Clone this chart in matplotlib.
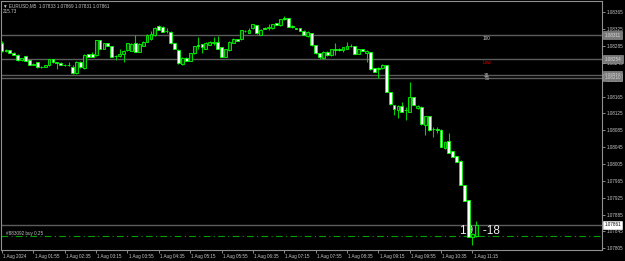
import matplotlib
matplotlib.use("Agg")
import matplotlib.pyplot as plt
import matplotlib.transforms as mtransforms
import numpy as np

plt.rcParams["font.family"] = ["Liberation Sans", "DejaVu Sans"]

# EURUSD M5 candles, prices in points (1e-5)
opens = [108293, 108274, 108275, 108269, 108263, 108252, 108261, 108252, 108240, 108246,
         108235, 108236, 108240, 108253, 108246, 108244, 108240, 108241, 108236, 108220,
         108248, 108232, 108266, 108267, 108263, 108299, 108279, 108291, 108285, 108261,
         108261, 108266, 108275, 108274, 108291, 108271, 108285, 108295, 108301, 108311,
         108332, 108331, 108320, 108319, 108292, 108275, 108242, 108257, 108250, 108268,
         108287, 108289, 108279, 108288, 108293, 108294, 108282, 108259, 108275, 108293,
         108301, 108301, 108320, 108316, 108327, 108335, 108311, 108327, 108327, 108327,
         108339, 108335, 108351, 108351, 108333, 108327, 108327, 108321, 108309, 108316,
         108287, 108268, 108256, 108271, 108263, 108279, 108279, 108275, 108279, 108286,
         108285, 108266, 108278, 108269, 108270, 108232, 108232, 108232, 108240, 108176,
         108145, 108133, 108142, 108133, 108129, 108164, 108137, 108141, 108097, 108119,
         108088, 108089, 108086, 108042, 108060, 108036, 108024, 108013, 107955, 107919,
         107832, 107833]
highs = [108297, 108278, 108276, 108271, 108266, 108257, 108262, 108253, 108244, 108247,
         108237, 108241, 108254, 108254, 108248, 108246, 108243, 108248, 108240, 108249,
         108249, 108265, 108267, 108271, 108300, 108300, 108292, 108292, 108286, 108263,
         108278, 108275, 108292, 108291, 108311, 108291, 108297, 108313, 108320, 108330,
         108335, 108332, 108328, 108320, 108293, 108277, 108258, 108259, 108269, 108286,
         108307, 108290, 108294, 108297, 108307, 108309, 108283, 108279, 108297, 108304,
         108302, 108324, 108323, 108328, 108338, 108336, 108325, 108330, 108337, 108338,
         108340, 108349, 108356, 108352, 108334, 108328, 108328, 108322, 108320, 108317,
         108288, 108269, 108273, 108272, 108278, 108291, 108280, 108283, 108295, 108290,
         108286, 108278, 108279, 108275, 108271, 108233, 108236, 108242, 108241, 108177,
         108146, 108144, 108153, 108141, 108200, 108165, 108144, 108142, 108120, 108120,
         108093, 108092, 108087, 108059, 108079, 108037, 108025, 108014, 107956, 107920,
         107841, 107869]
lows = [108271, 108271, 108268, 108263, 108250, 108250, 108249, 108240, 108239, 108233,
        108233, 108235, 108237, 108244, 108230, 108239, 108237, 108237, 108218, 108218,
        108233, 108230, 108258, 108258, 108262, 108278, 108278, 108284, 108258, 108252,
        108260, 108248, 108274, 108273, 108270, 108270, 108284, 108294, 108300, 108309,
        108322, 108318, 108316, 108290, 108277, 108242, 108241, 108249, 108249, 108267,
        108279, 108268, 108278, 108287, 108287, 108278, 108258, 108258, 108274, 108292,
        108296, 108300, 108318, 108315, 108326, 108314, 108310, 108325, 108323, 108326,
        108334, 108333, 108347, 108330, 108328, 108325, 108320, 108310, 108307, 108286,
        108267, 108253, 108255, 108262, 108262, 108263, 108274, 108271, 108278, 108282,
        108265, 108265, 108272, 108248, 108229, 108223, 108208, 108231, 108175, 108146,
        108121, 108113, 108128, 108109, 108128, 108144, 108136, 108098, 108074, 108084,
        108070, 108078, 108045, 108041, 108031, 108021, 108009, 107954, 107917, 107831,
        107813, 107831]
closes = [108274, 108275, 108269, 108264, 108252, 108256, 108250, 108241, 108243, 108234,
          108236, 108240, 108253, 108246, 108244, 108240, 108241, 108240, 108220, 108248,
          108234, 108263, 108259, 108259, 108299, 108279, 108291, 108285, 108259, 108262,
          108267, 108274, 108291, 108290, 108271, 108290, 108295, 108311, 108313, 108328,
          108323, 108319, 108321, 108291, 108278, 108244, 108256, 108250, 108268, 108285,
          108286, 108283, 108293, 108295, 108294, 108279, 108259, 108278, 108295, 108301,
          108297, 108323, 108321, 108324, 108337, 108315, 108324, 108326, 108331, 108337,
          108335, 108348, 108348, 108331, 108329, 108326, 108321, 108311, 108319, 108287,
          108268, 108259, 108271, 108263, 108277, 108275, 108275, 108282, 108285, 108285,
          108266, 108277, 108273, 108274, 108230, 108224, 108231, 108241, 108176, 108147,
          108135, 108142, 108129, 108132, 108163, 108145, 108142, 108099, 108119, 108086,
          108087, 108086, 108046, 108058, 108032, 108022, 108010, 107955, 107918, 107832,
          107840, 107861]

time_labels = ["1 Aug 2024", "1 Aug 01:55", "1 Aug 02:35", "1 Aug 03:15", "1 Aug 03:55",
               "1 Aug 04:35", "1 Aug 05:15", "1 Aug 05:55", "1 Aug 06:35", "1 Aug 07:15",
               "1 Aug 07:55", "1 Aug 08:35", "1 Aug 09:15", "1 Aug 09:55", "1 Aug 10:35",
               "1 Aug 11:15"]
price_ticks = [1.08365, 1.08325, 1.08285, 1.08245, 1.08205, 1.08165, 1.08125, 1.08085,
               1.08045, 1.08005, 1.07965, 1.07925, 1.07885, 1.07845, 1.07805]

level_prices = [1.08311, 1.08254, 1.08216, 1.08210]
level_names = ["100", "Low", "38", "50"]
level_colors = ["#d0d0d0", "#e00000", "#b0b0b0", "#b0b0b0"]
bid = 1.07861
order_price = 1.07833

o = np.array(opens) / 1e5
h = np.array(highs) / 1e5
l = np.array(lows) / 1e5
c = np.array(closes) / 1e5
x = np.arange(len(o))

fig = plt.figure(figsize=(6.25, 2.61), dpi=100, facecolor="black")
ax = fig.add_axes([1 / 625, 11 / 261, 601 / 625, 249 / 261], facecolor="black")

ax.vlines(x, l, h, color="#00d000", lw=0.8, zorder=2)
up = c >= o
body_h = np.maximum(np.abs(c - o), 0.000008)
ax.bar(x[up], body_h[up], bottom=np.minimum(o, c)[up], width=0.72,
       color="#0b3d0b", edgecolor="#00ff00", linewidth=0.6, zorder=3)
ax.bar(x[~up], body_h[~up], bottom=np.minimum(o, c)[~up], width=0.72,
       color="white", edgecolor="#00ff00", linewidth=0.6, zorder=3)

for p in level_prices:
    ax.axhline(p, color="#5c5c5c", lw=1.0, zorder=1)
ax.axhline(bid, color="#5c5c5c", lw=1.0, zorder=1)
ax.axhline(order_price, color="#00a000", lw=0.8, dashes=(6, 3, 1, 3), zorder=1)

label_y = [1.08302, 1.08247, 1.08215, 1.08207]
for p, name, col in zip(label_y, level_names, level_colors):
    ax.text(123.7, p, name, color=col, fontsize=3.4, ha="center", va="center")

ax.text(1, order_price + 0.00007, "#883092 buy 0.25", color="#c0c0c0", fontsize=3.3,
        ha="left", va="center")
ax.text(122, 1.07846, "19 : -18", color="#eeeeee", fontsize=8.5, ha="center", va="center",
        zorder=1)

ax.set_xlim(-0.26, 153.06)
ax.set_ylim(1.078009, 1.083918)

ax.yaxis.tick_right()
ax.set_yticks(price_ticks)
ax.set_yticklabels([f"{p:.5f}" for p in price_ticks])
ax.set_xticks(np.arange(0, len(o), 8))
ax.set_xticklabels(time_labels)
ax.tick_params(axis="both", colors="#a0a0a0", labelcolor="#c8c8c8", labelsize=3.3,
               length=2, width=0.6, pad=1.2)
offset = mtransforms.ScaledTranslation(1.2 / 100, 0, fig.dpi_scale_trans)
for lab in ax.get_xticklabels():
    lab.set_horizontalalignment("left")
    lab.set_transform(lab.get_transform() + offset)
for s in ax.spines.values():
    s.set_color("#909090")
    s.set_linewidth(0.8)

trans = mtransforms.blended_transform_factory(ax.transAxes, ax.transData)
for p in level_prices:
    ax.text(1.004, p, f"{p:.5f}", transform=trans, fontsize=3.3, color="#d8d8d8",
            ha="left", va="center", clip_on=False, zorder=5,
            bbox=dict(boxstyle="square,pad=0.3", fc="#7a7a7a", ec="#a0a0a0", lw=0.4))
ax.text(1.004, bid, f"{bid:.5f}", transform=trans, fontsize=3.3, color="black",
        ha="left", va="center", clip_on=False, zorder=5,
        bbox=dict(boxstyle="square,pad=0.3", fc="white", ec="white", lw=0.4))

fig.text(3 / 625, 1 - 6 / 261, "\u25bc EURUSD,M5  1.07833 1.07869 1.07831 1.07861",
         color="#c8c8c8", fontsize=3.3, ha="left", va="center")
fig.text(3 / 625, 1 - 12 / 261, "215.73", color="#c8c8c8", fontsize=3.3,
         ha="left", va="center")

fig.savefig("out.png", dpi=100, facecolor="black")
